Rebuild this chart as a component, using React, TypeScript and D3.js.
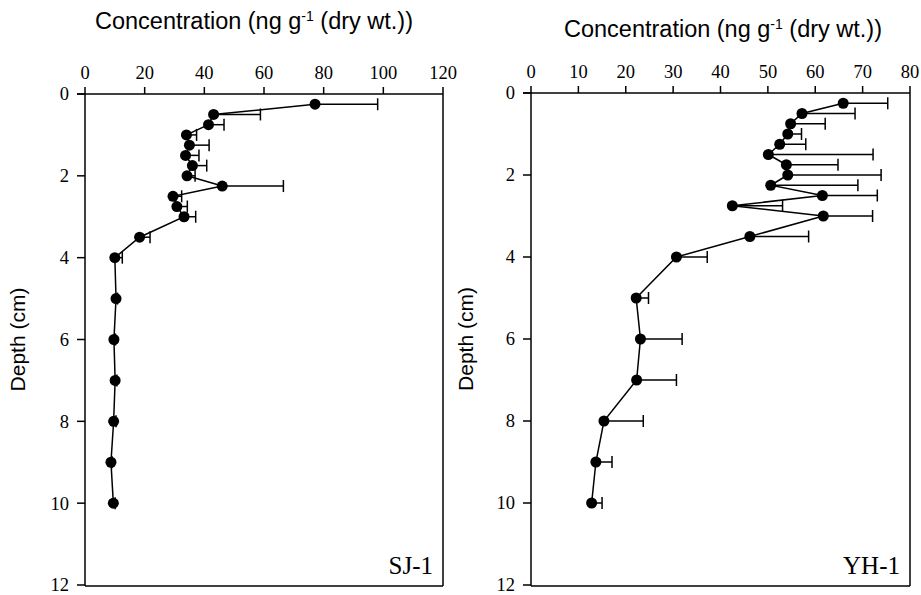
import React from "react";
import * as d3 from "d3";

const sjDepth = [0.25, 0.5, 0.75, 1.0, 1.25, 1.5, 1.75, 2.0, 2.25, 2.5, 2.75, 3.0, 3.5, 4, 5, 6, 7, 8, 9, 10];
const sjConc = [77.1, 43.1, 41.4, 34.0, 35.0, 33.7, 36.0, 34.2, 46.0, 29.5, 30.8, 33.2, 18.3, 10.0, 10.4, 9.7, 10.1, 9.6, 8.7, 9.5];
const sjErr = [21.0, 15.7, 5.2, 3.4, 6.6, 4.5, 4.8, 2.7, 20.5, 2.9, 3.5, 3.9, 3.5, 2.5, 0.5, 0.5, 0.6, 0.8, 0.4, 0.6];

const yhDepth = [0.25, 0.5, 0.75, 1.0, 1.25, 1.5, 1.75, 2.0, 2.25, 2.5, 2.75, 3.0, 3.5, 4, 5, 6, 7, 8, 9, 10];
const yhConc = [65.9, 57.2, 54.8, 54.2, 52.5, 50.1, 53.9, 54.2, 50.6, 61.5, 42.5, 61.7, 46.2, 30.7, 22.2, 23.1, 22.3, 15.4, 13.7, 12.8];
const yhErr = [9.4, 11.2, 7.3, 2.9, 5.5, 22.1, 10.9, 19.7, 18.4, 11.6, 10.6, 10.4, 12.4, 6.5, 2.6, 8.8, 8.4, 8.3, 3.4, 2.2];

const sjTicks = [0, 20, 40, 60, 80, 100, 120];
const yhTicks = [0, 10, 20, 30, 40, 50, 60, 70, 80];
const depthTicks = [0, 2, 4, 6, 8, 10, 12];

type PanelProps = {
  x0: number; x1: number; y0: number; y1: number;
  xmax: number; xticks: number[];
  depth: number[]; conc: number[]; err: number[];
  label: string; titleX: number; titleY: number; ylabX: number;
};

function Panel(p: PanelProps) {
  const x = d3.scaleLinear().domain([0, p.xmax]).range([p.x0, p.x1]);
  const y = d3.scaleLinear().domain([0, 12]).range([p.y0, p.y1]);
  const pts = p.depth.map((d, i) => [x(p.conc[i]), y(d)] as [number, number]);
  const line = d3.line()(pts) || "";
  const serif = "'Liberation Serif', 'Times New Roman', serif";
  const sans = "'Liberation Sans', Arial, sans-serif";
  return (
    <g>
      <text x={p.titleX} y={p.titleY} textAnchor="middle" fontFamily={sans} fontSize={23.5} fill="#000">
        Concentration (ng g<tspan dy={-8} fontSize={14}>-1</tspan><tspan dy={8}> (dry wt.))</tspan>
      </text>
      <text transform={`translate(${p.ylabX},${(p.y0 + p.y1) / 2}) rotate(-90)`} textAnchor="middle"
        fontFamily={sans} fontSize={21} fill="#000">Depth (cm)</text>
      <line x1={p.x0 - 8} x2={p.x1} y1={p.y0} y2={p.y0} stroke="#000" strokeWidth={1.5} />
      <line x1={p.x0} x2={p.x0} y1={p.y0} y2={p.y1 + 1} stroke="#000" strokeWidth={1.5} />
      <line x1={p.x1} x2={p.x1} y1={p.y0} y2={p.y1 + 1} stroke="#000" strokeWidth={1.5} />
      <line x1={p.x0} x2={p.x1} y1={p.y1 + 1} y2={p.y1 + 1} stroke="#000" strokeWidth={1.5} />
      {p.xticks.map((t) => (
        <g key={"x" + t}>
          <line x1={x(t)} x2={x(t)} y1={p.y0} y2={p.y0 - 7} stroke="#000" strokeWidth={1.5} />
          <text x={x(t)} y={p.y0 - 15} textAnchor="middle" fontFamily={serif} fontSize={18.5} fill="#000">{t}</text>
        </g>
      ))}
      {depthTicks.map((t) => (
        <g key={"y" + t}>
          <line x1={p.x0 - 8} x2={p.x0} y1={y(t)} y2={y(t)} stroke="#000" strokeWidth={1.5} />
          <text x={p.x0 - 16} y={y(t)} dy="0.35em" textAnchor="end" fontFamily={serif} fontSize={18.5} fill="#000">{t}</text>
        </g>
      ))}
      {p.depth.map((d, i) => {
        const xa = x(p.conc[i]);
        const xb = x(p.conc[i] + p.err[i]);
        const yy = y(d);
        return (
          <g key={"e" + i}>
            <line x1={xa} x2={xb} y1={yy} y2={yy} stroke="#000" strokeWidth={1.5} />
            <line x1={xb} x2={xb} y1={yy - 6} y2={yy + 6} stroke="#000" strokeWidth={1.5} />
          </g>
        );
      })}
      <path d={line} fill="none" stroke="#000" strokeWidth={1.5} />
      {pts.map((pt, i) => (
        <circle key={"c" + i} cx={pt[0]} cy={pt[1]} r={5.5} fill="#000" />
      ))}
      <text x={p.x1 - 10} y={p.y1 - 11} textAnchor="end" fontFamily={serif} fontSize={25} fill="#000">{p.label}</text>
    </g>
  );
}

export default function App() {
  return (
    <svg width={921} height={595} style={{ position: "absolute", left: 0, top: 0, background: "#fff" }}>
      <rect width={921} height={595} fill="#fff" />
      <Panel x0={85} x1={443} y0={94} y1={585} xmax={120} xticks={sjTicks}
        depth={sjDepth} conc={sjConc} err={sjErr} label="SJ-1" titleX={254} titleY={29} ylabX={25} />
      <Panel x0={531} x1={910} y0={93} y1={585} xmax={80} xticks={yhTicks}
        depth={yhDepth} conc={yhConc} err={yhErr} label="YH-1" titleX={723} titleY={37} ylabX={473} />
    </svg>
  );
}
